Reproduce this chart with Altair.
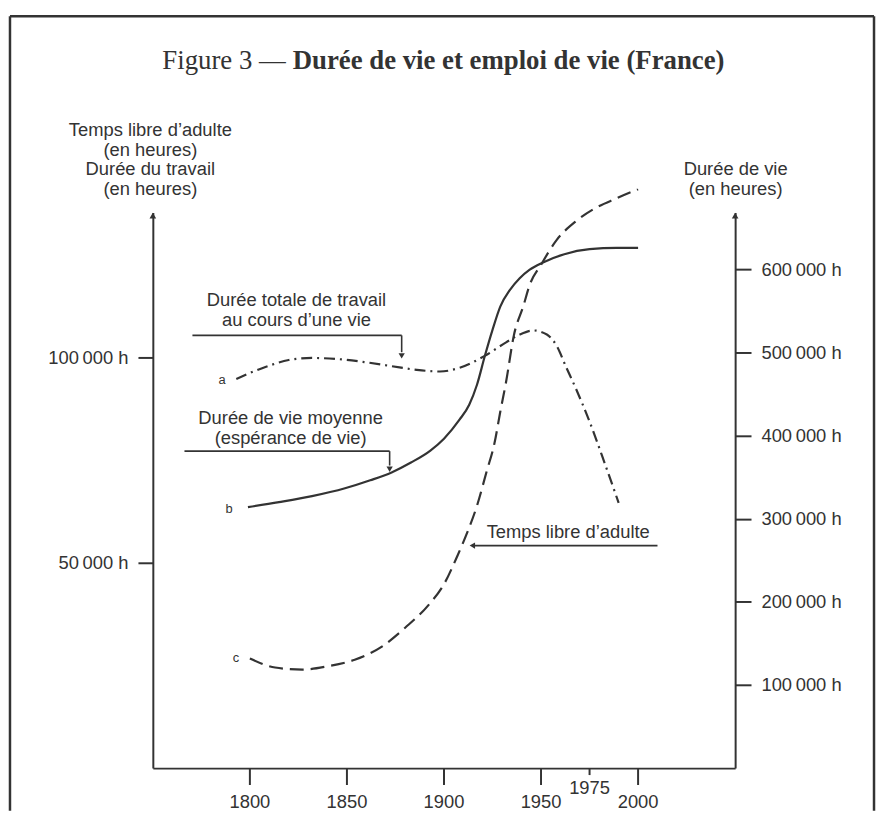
import altair as alt
import pandas as pd

# ---- data ----
# a: Durée totale de travail au cours d'une vie (left axis, hours)
years_a = [1793, 1808, 1820, 1832, 1846, 1859, 1873, 1886, 1898, 1908, 1921,
           1932, 1939, 1946, 1953, 1958, 1963, 1968, 1975, 1983, 1990]
hours_a = [94800, 97700, 99400, 99900, 99600, 98900, 97900, 97000, 96600, 97500, 100400,
           103700, 105600, 106600, 105600, 102900, 97600, 92400, 84400, 74000, 64600]

# b: Durée de vie moyenne (right axis, hours)
years_b = [1799, 1815, 1832, 1849, 1862, 1873, 1883, 1893, 1900, 1908, 1913, 1917,
           1921, 1925, 1929, 1934, 1939, 1944, 1951, 1962, 1975, 1989, 2000]
hours_b = [313800, 319800, 327000, 336500, 346100, 355600, 367500, 381900, 396200, 419000,
           437000, 461000, 495200, 527000, 555000, 575000, 589000, 599000, 608000, 618000,
           624000, 625500, 625500]

# c: Temps libre d'adulte (left axis, hours)
years_c = [1800, 1813, 1827, 1840, 1854, 1868, 1880, 1892, 1900, 1907, 1912, 1917, 1922,
           1926, 1929, 1932, 1936, 1941, 1944, 1950, 1958, 1968, 1978, 1989, 2000]
hours_c = [26700, 24500, 24000, 24800, 26400, 29600, 34200, 39700, 44800, 51800, 57400,
           63900, 72300, 79100, 86800, 94100, 105400, 112700, 117500, 122600, 128600,
           133200, 136400, 138800, 141000]

left_ticks = [50000, 100000]
right_ticks = [100000, 200000, 300000, 400000, 500000, 600000]
x_ticks_main = [1800, 1850, 1900, 1950, 2000]
x_ticks_minor = [1975]

# annotation texts (data units: year, left-axis hours)
ann_text = ["Durée totale de travail", "au cours d’une vie",
            "Durée de vie moyenne", "(espérance de vie)",
            "Temps libre d’adulte"]
ann_text_year = [1824, 1824, 1821, 1821, 1964]
ann_text_hours = [113900, 109100, 85200, 80300, 57400]

# annotation leader lines
seg_year = [1770.4, 1878.2, 1766.3, 1872.0, 1915.0]
seg_year2 = [1878.2, 1878.2, 1872.0, 1872.0, 2010.0]
seg_hours = [105400, 105400, 77200, 77200, 54200]
seg_hours2 = [105400, 101300, 77200, 73700, 54200]

# arrow heads of the leader lines
head_year = [1878.2, 1872.0, 1914.6]
head_hours = [100400, 72800, 54200]
head_shape = ["triangle-down", "triangle-down", "triangle-left"]

# curve letters
letter = ["a", "b", "c"]
letter_year = [1785.7, 1789.3, 1792.8]
letter_hours = [94600, 63200, 26700]

X_DOMAIN = [1750, 2050]
L_DOMAIN = [0, 135300]
R_DOMAIN = [0, 668000]

W, H = 587, 560
INK = "#333333"
FONT = "Liberation Sans"
SERIF = "Liberation Serif"
FS = 18.5

xs = alt.Scale(domain=X_DOMAIN, nice=False, zero=False)
ls = alt.Scale(domain=L_DOMAIN, nice=False, zero=False)
rs = alt.Scale(domain=R_DOMAIN, nice=False, zero=False)

label_expr = "replace(format(datum.value, ','), ',', '\u2009') + ' h'"


def X(field="year"):
    return alt.X(f"{field}:Q", scale=xs)


def YL(field="hours"):
    return alt.Y(f"{field}:Q", scale=ls)


df_a = pd.DataFrame({"year": years_a, "hours": hours_a})
df_b = pd.DataFrame({"year": years_b, "hours": hours_b})
df_c = pd.DataFrame({"year": years_c, "hours": hours_c})

line_a = alt.Chart(df_a).mark_line(
    color=INK, strokeWidth=2.2, interpolate="monotone", strokeDash=[11, 5, 2, 5]
).encode(
    x=alt.X("year:Q", scale=xs,
            axis=alt.Axis(title=None, ticks=False, labels=False, grid=False,
                          domainColor=INK, domainWidth=2)),
    y=alt.Y("hours:Q", scale=ls,
            axis=alt.Axis(values=left_ticks, labelExpr=label_expr, grid=False,
                          tickSize=15, tickWidth=2, tickColor=INK,
                          domainColor=INK, domainWidth=2, labelPadding=10,
                          labelFont=FONT, labelFontSize=FS, labelColor=INK,
                          title=["Temps libre d’adulte", "(en heures)",
                                 "Durée du travail", "(en heures)"],
                          titleAngle=0, titleX=-3, titleY=-74, titleAlign="center",
                          titleBaseline="bottom", titleFont=FONT, titleFontSize=FS,
                          titleFontWeight="normal", titleColor=INK, titleLineHeight=20)),
)

line_c = alt.Chart(df_c).mark_line(
    color=INK, strokeWidth=2.2, interpolate="monotone", strokeDash=[14, 7]
).encode(x=X(), y=YL())

df_at = pd.DataFrame({"year": ann_text_year, "hours": ann_text_hours, "text": ann_text})
ann_texts = alt.Chart(df_at).mark_text(
    font=FONT, fontSize=FS, color=INK, baseline="middle", align="center"
).encode(x=X(), y=YL(), text="text:N")

df_seg = pd.DataFrame({"year": seg_year, "year2": seg_year2,
                       "hours": seg_hours, "hours2": seg_hours2})
ann_segs = alt.Chart(df_seg).mark_rule(color=INK, strokeWidth=1.6).encode(
    x=X(), x2="year2:Q", y=YL(), y2="hours2:Q")

df_head = pd.DataFrame({"year": head_year, "hours": head_hours, "shape": head_shape})
ann_heads = alt.Chart(df_head).mark_point(
    filled=True, color=INK, size=40, opacity=1
).encode(x=X(), y=YL(),
         shape=alt.Shape("shape:N", scale=None, legend=None))

df_let = pd.DataFrame({"year": letter_year, "hours": letter_hours, "text": letter})
letters = alt.Chart(df_let).mark_text(
    font=FONT, fontSize=13, color=INK, baseline="middle", align="center"
).encode(x=X(), y=YL(), text="text:N")

# axis arrow heads at the top of the two vertical axes
df_axhead = pd.DataFrame({"year": X_DOMAIN, "hours": [L_DOMAIN[1], L_DOMAIN[1]]})
ax_heads = alt.Chart(df_axhead).mark_point(
    shape="triangle-up", filled=True, color=INK, size=45, opacity=1, yOffset=3
).encode(x=X(), y=YL())

# x-axis ticks and labels
df_xt = pd.DataFrame({"year": x_ticks_main, "label": [str(v) for v in x_ticks_main]})
df_xm = pd.DataFrame({"year": x_ticks_minor, "label": [str(v) for v in x_ticks_minor]})
xt_rules = alt.Chart(df_xt).mark_rule(color=INK, strokeWidth=2).encode(
    x=X(), y=alt.value(H), y2=alt.value(H + 17))
xm_rules = alt.Chart(df_xm).mark_rule(color=INK, strokeWidth=2).encode(
    x=X(), y=alt.value(H), y2=alt.value(H + 7))
xt_labels = alt.Chart(df_xt).mark_text(
    font=FONT, fontSize=FS, color=INK, baseline="middle").encode(
    x=X(), y=alt.value(H + 34), text="label:N")
xm_labels = alt.Chart(df_xm).mark_text(
    font=FONT, fontSize=FS, color=INK, baseline="middle").encode(
    x=X(), y=alt.value(H + 20), text="label:N")

# frame and title
one = pd.DataFrame({"k": [0]})
frame_top = alt.Chart(one).mark_rule(color=INK, strokeWidth=2.5).encode(
    x=alt.value(-144), x2=alt.value(727), y=alt.value(-198))
frame_left = alt.Chart(one).mark_rule(color=INK, strokeWidth=2.5).encode(
    x=alt.value(-144), y=alt.value(-198), y2=alt.value(603))
frame_right = alt.Chart(one).mark_rule(color=INK, strokeWidth=2.5).encode(
    x=alt.value(727), y=alt.value(-198), y2=alt.value(603))

title_reg = alt.Chart(one).mark_text(
    font=SERIF, fontSize=27, color=INK, align="right", baseline="middle"
).encode(x=alt.value(134), y=alt.value(-153), text=alt.value("Figure 3 —"))
title_bold = alt.Chart(one).mark_text(
    font=SERIF, fontSize=27, fontWeight="bold", color=INK, align="left", baseline="middle"
).encode(x=alt.value(141), y=alt.value(-153),
         text=alt.value("Durée de vie et emploi de vie (France)"))

left_layer = alt.layer(
    line_a, line_c, ann_texts, ann_segs, ann_heads, letters, ax_heads,
    xt_rules, xm_rules, xt_labels, xm_labels,
    frame_top, frame_left, frame_right, title_reg, title_bold,
)

line_b = alt.Chart(df_b).mark_line(
    color=INK, strokeWidth=2.2, interpolate="monotone"
).encode(
    x=X(),
    y=alt.Y("hours:Q", scale=rs,
            axis=alt.Axis(orient="right", values=right_ticks, labelExpr=label_expr,
                          grid=False, tickSize=16, tickWidth=2, tickColor=INK,
                          domainColor=INK, domainWidth=2, labelPadding=10,
                          labelFont=FONT, labelFontSize=FS, labelColor=INK,
                          title=["Durée de vie", "(en heures)"],
                          titleAngle=0, titleX=0, titleY=-34, titleAlign="center",
                          titleBaseline="bottom", titleFont=FONT, titleFontSize=FS,
                          titleFontWeight="normal", titleColor=INK, titleLineHeight=20)),
)

chart = alt.layer(left_layer, line_b).resolve_scale(y="independent").properties(
    width=W, height=H,
    padding={"left": 0, "top": 3, "right": 0, "bottom": 0},
    background="white",
).configure_view(stroke=None)

chart.save("out.html", embed_options={"renderer": "svg", "actions": False})
